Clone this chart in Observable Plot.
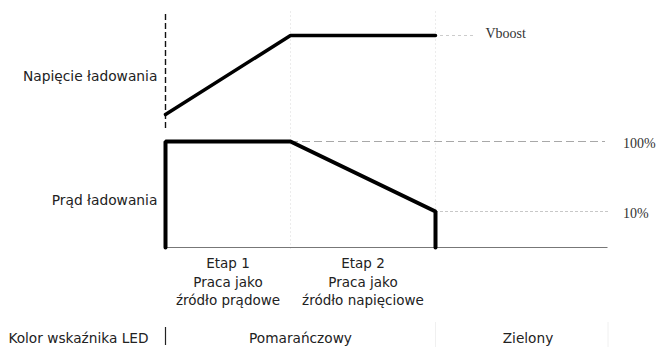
<!DOCTYPE html>
<html>
<head>
<meta charset="utf-8">
<script src="https://cdn.jsdelivr.net/npm/d3@7"></script>
<script src="https://cdn.jsdelivr.net/npm/@observablehq/plot@0.6"></script>
<style>
  html, body { margin: 0; padding: 0; background: #fff; }
  #chart svg { display: block; }
</style>
</head>
<body>
<div id="chart"></div>
<script>
// Time (arbitrary units): stage 1 from 0 to 1, stage 2 from 1 to 2.16, axis to 3.54
const stageBounds = [0, 1, 2.16];
const axisEnd = 3.54;

// Charging voltage (schematic level units)
const voltageT = [0, 1, 2.16];
const voltageV = [133, 212, 212];

// Charging current (schematic level units)
const currentT = [0, 0, 1, 2.16, 2.16];
const currentV = [0, 106, 106, 36, 0];

// Reference levels
const levelLabels = ["Vboost", "100%", "10%"];
const levelValues = [212, 106, 36];

// Left-hand labels
const seriesLabels = ["Napięcie ładowania", "Prąd ładowania"];
const seriesLabelLevels = [171, 47];

// Stage texts
const stageTexts = ["Etap 1\nPraca jako\nźródło prądowe", "Etap 2\nPraca jako\nźródło napięciowe"];

// LED colour row
const ledHeader = "Kolor wskaźnika LED";
const ledNames = ["Pomarańczowy", "Zielony"];
const ledCenters = [1.08, 2.9];

const W = 658, H = 347;
const voltage = voltageT.map((t, i) => ({t, v: voltageV[i]}));
const current = currentT.map((t, i) => ({t, v: currentV[i]}));
const stageMid = [ (stageBounds[0]+stageBounds[1])/2, (stageBounds[1]+stageBounds[2])/2 ];

const sans = "DejaVu Sans, Verdana, sans-serif";
const serif = "Liberation Serif, Times New Roman, serif";

const plot = Plot.plot({
  width: W, height: H,
  margin: 0,
  style: {fontFamily: sans, background: "#fff"},
  x: {type: "linear", domain: [-1.32, 3.944], axis: null},
  y: {type: "linear", domain: [-100, 247], axis: null},
  marks: [
    // faint vertical stage guides
    Plot.ruleX([stageBounds[1], stageBounds[2]], {y1: -2, y2: 236, stroke: "#ececec", strokeWidth: 1, strokeDasharray: "2,2"}),
    Plot.ruleX([stageBounds[2], axisEnd], {y1: -100, y2: -75, stroke: "#f0f0f0", strokeWidth: 1}),
    // reference level guides
    Plot.ruleY([levelValues[0]], {x1: stageBounds[2] + 0.04, x2: 2.48, stroke: "#cccccc", strokeWidth: 1, strokeDasharray: "3,3"}),
    Plot.ruleY([levelValues[1]], {x1: stageBounds[1], x2: 3.52, stroke: "#a8a8a8", strokeWidth: 1, strokeDasharray: "8,4"}),
    Plot.ruleY([levelValues[2]], {x1: stageBounds[2], x2: 3.56, stroke: "#c8c8c8", strokeWidth: 1, strokeDasharray: "3,2"}),
    // baseline
    Plot.ruleY([0], {x1: 0, x2: axisEnd, stroke: "#777", strokeWidth: 1.2}),
    // dashed start line
    Plot.ruleX([0], {y1: 119, y2: 234, stroke: "#111", strokeWidth: 1.4, strokeDasharray: "6,3"}),
    // voltage and current curves
    Plot.line(voltage, {x: "t", y: "v", stroke: "#000", strokeWidth: 3.5, strokeLinejoin: "miter"}),
    Plot.line(current, {x: "t", y: "v", stroke: "#000", strokeWidth: 4, strokeLinejoin: "miter"}),
    // level labels
    Plot.text([levelLabels[0]], {x: 2.56, y: levelValues[0] + 2, text: d => d, textAnchor: "start", fontFamily: serif, fontSize: 14, fill: "#333"}),
    Plot.text(levelLabels.slice(1), {x: 3.66, y: (d, i) => levelValues[i + 1] - 2, text: d => d, textAnchor: "start", fontFamily: serif, fontSize: 14, fill: "#333"}),
    // series labels
    Plot.text(seriesLabels, {x: -0.065, y: (d, i) => seriesLabelLevels[i], text: d => d, textAnchor: "end", fontSize: 13.8, fill: "#222"}),
    // stage labels
    Plot.text(stageTexts, {x: (d, i) => stageMid[i], y: -33, text: d => d, textAnchor: "middle", lineHeight: 1.4, fontSize: 13.5, fill: "#222"}),
    // LED row
    Plot.text([ledHeader], {x: -0.136, y: -91, text: d => d, textAnchor: "end", fontSize: 13.7, fill: "#222"}),
    Plot.ruleX([0], {y1: -98, y2: -80, stroke: "#222", strokeWidth: 1.2}),
    Plot.text(ledNames, {x: (d, i) => ledCenters[i], y: -91, text: d => d, textAnchor: "middle", fontSize: 13.7, fill: "#222"})
  ]
});
document.getElementById("chart").appendChild(plot);
</script>
</body>
</html>
